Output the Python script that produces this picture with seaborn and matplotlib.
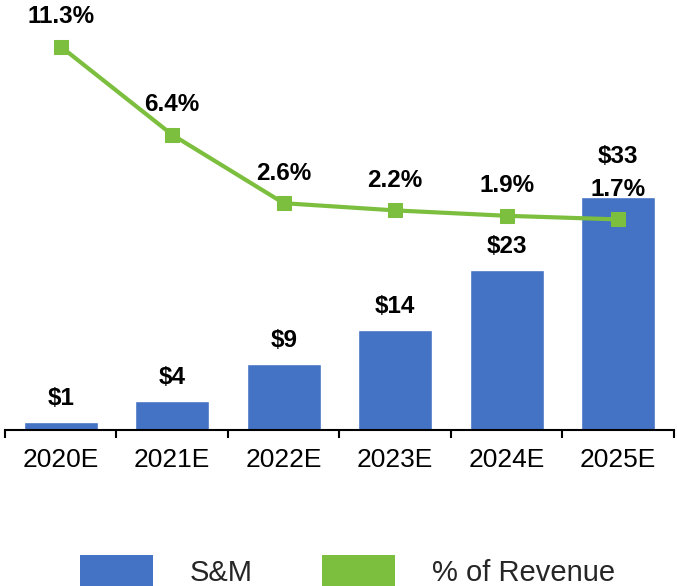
import matplotlib
matplotlib.use("Agg")
import matplotlib.pyplot as plt
from matplotlib.patches import Patch
import seaborn as sns
import pandas as pd

years = ["2020E", "2021E", "2022E", "2023E", "2024E", "2025E"]
sm_values = [1.1, 4.1, 9.3, 14.2, 22.6, 33.0]
sm_labels = ["$1", "$4", "$9", "$14", "$23", "$33"]
pct_revenue = [11.3, 6.4, 2.6, 2.2, 1.9, 1.7]
pct_labels = ["11.3%", "6.4%", "2.6%", "2.2%", "1.9%", "1.7%"]

BLUE = "#4472C4"
GREEN = "#7CBF3F"

sns.set_theme(style="white")
plt.rcParams["font.family"] = ["Liberation Sans", "DejaVu Sans"]

df = pd.DataFrame({"year": years, "sm": sm_values, "pct": pct_revenue})

fig = plt.figure(figsize=(6.77, 5.86), dpi=100)
ax = fig.add_axes([5 / 677, (586 - 430) / 586, 669 / 677, 420 / 586])

sns.barplot(data=df, x="year", y="sm", color=BLUE, width=0.66, saturation=1, ax=ax)
ax.set_ylim(0, 420 / 7.06)
ax.set_xlim(-0.5, len(years) - 0.5)

for i, (v, lab) in enumerate(zip(sm_values, sm_labels)):
    off = 29 if i == len(years) - 1 else 17
    ax.annotate(lab, (i, v), xytext=(0, off), textcoords="offset points",
                ha="center", va="center", fontsize=17.5, fontweight="bold", color="black")

ax2 = ax.twinx()
sns.lineplot(data=df, x="year", y="pct", color=GREEN, linewidth=3, marker="s",
             markersize=10, markeredgecolor=GREEN, ax=ax2)
ax2.set_ylim(-10, 240 / 18)
for i, (v, lab) in enumerate(zip(pct_revenue, pct_labels)):
    ax2.annotate(lab, (i, v), xytext=(0, 21.5), textcoords="offset points",
                 ha="center", va="center", fontsize=17.5, fontweight="bold", color="black")

for a in (ax, ax2):
    for s in ["top", "right", "left"]:
        a.spines[s].set_visible(False)
    a.set_yticks([])
    a.set_ylabel("")
    a.set_xlabel("")
ax2.spines["bottom"].set_visible(False)

ax.spines["bottom"].set_color("black")
ax.spines["bottom"].set_linewidth(1.5)
ax.set_xticks(range(len(years)))
ax.set_xticklabels(years, fontsize=19, color="black")
ax.tick_params(axis="x", which="major", length=0, pad=13)
ax.set_xticks([i - 0.5 for i in range(len(years) + 1)], minor=True)
ax.tick_params(axis="x", which="minor", length=6, width=1.5, color="black", direction="out", bottom=True)

handles = [Patch(facecolor=BLUE, edgecolor="none", label="S&M"),
           Patch(facecolor=GREEN, edgecolor="none", label="% of Revenue")]
fig.legend(handles=handles, loc="center", bbox_to_anchor=(0.513, 1 - 571 / 586), ncol=2,
           frameon=False, fontsize=21, handlelength=2.5, handleheight=1.3,
           handletextpad=1.27, columnspacing=2.37, borderpad=0.2)

fig.savefig("out.png", dpi=100)
